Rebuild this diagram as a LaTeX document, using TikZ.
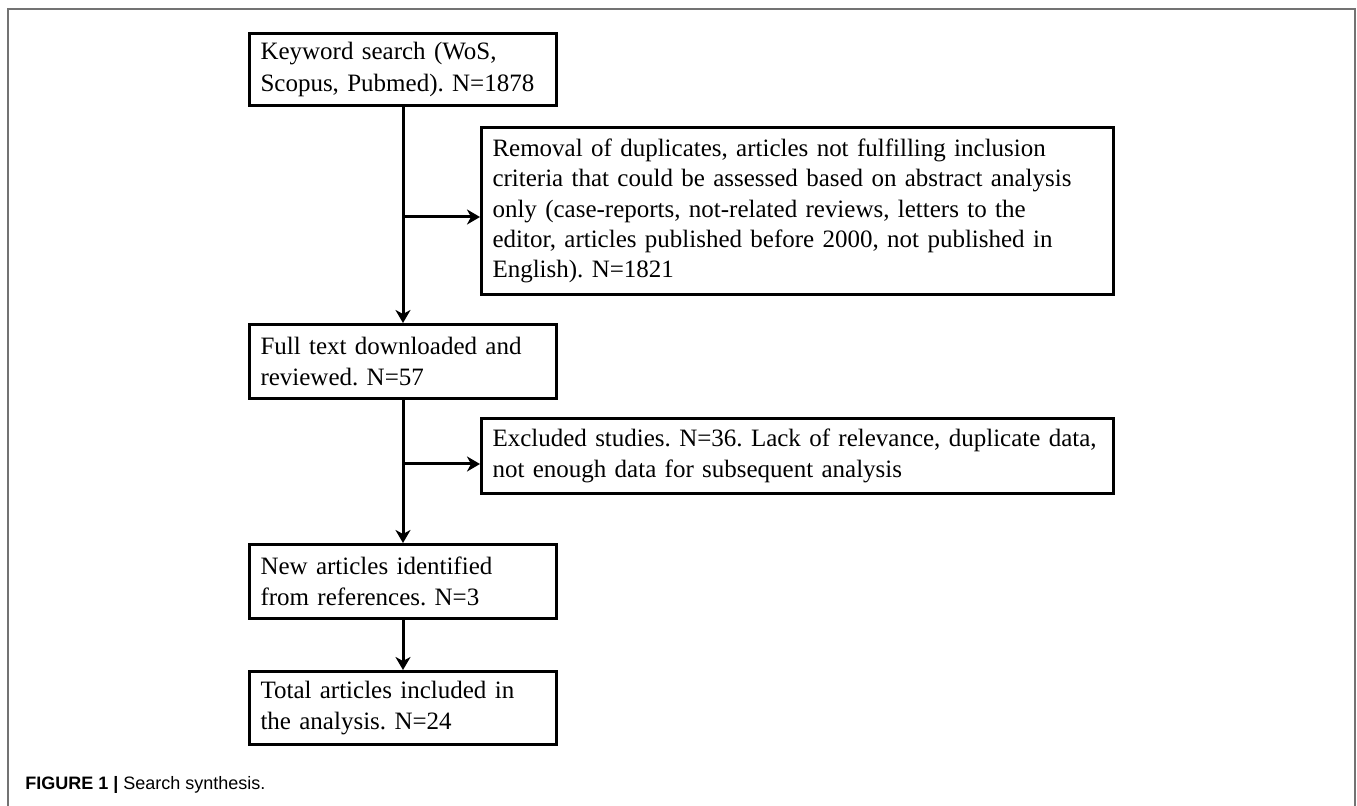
\documentclass[tikz,border=0pt]{standalone}
\usepackage{fontspec}
\setmainfont{Liberation Serif}
\newfontfamily\capfont{Liberation Sans}
\usetikzlibrary{arrows.meta}
\frenchspacing

\newcommand\flowfont{\fontsize{12.5}{15.2}\selectfont}

\tikzset{
  stepbox/.style={draw, line width=1.5pt, anchor=north west, align=left,
    inner xsep=5.5pt, inner ysep=0pt, font=\flowfont},
  narrowbox/.style={stepbox, text width=142.5pt},
  widebox/.style={stepbox, text width=305pt},
  flow/.style={line width=1.5pt, -{Stealth[length=6.5pt,width=7.5pt,inset=2pt]}}
}

\begin{document}
\begin{tikzpicture}[x=0.5pt,y=-0.5pt]
\useasboundingbox (0,0) rectangle (1357,806);
% figure frame
\draw [black!55, line width=1pt] (8,806) -- (8,9) -- (1355,9) -- (1355,806);

\node [narrowbox, minimum height=36pt, font=\fontsize{12.5}{16}\selectfont] (kw) at (248,32)
  {Keyword search (WoS,\\Scopus, Pubmed). N=1878};
\node [widebox, minimum height=83.5pt] (rm) at (480,126)
  {Removal of duplicates, articles not fulfilling inclusion\\
   criteria that could be assessed based on abstract analysis\\
   only (case-reports, not-related reviews, letters to the\\
   editor, articles published before 2000, not published in\\
   English). N=1821};
\node [narrowbox, minimum height=37pt] (ft) at (248,323)
  {Full text downloaded and\\reviewed. N=57};
\node [widebox, minimum height=37.5pt] (ex) at (480,417)
  {Excluded studies. N=36. Lack of relevance, duplicate data,\\
   not enough data for subsequent analysis};
\node [narrowbox, minimum height=37pt] (na) at (248,543)
  {New articles identified\\from references. N=3};
\node [narrowbox, minimum height=36.5pt] (tot) at (248,670)
  {Total articles included in\\the analysis. N=24};

\node [anchor=base west, inner sep=0pt, font=\capfont\fontsize{9}{11}\selectfont] (cap) at (25,790)
  {\textbf{FIGURE 1 |} Search synthesis.};

% main line
\draw [flow] (kw.south) -- (ft.north);
\draw [flow] (ft.south) -- (na.north);
\draw [flow] (na.south) -- (tot.north);

% side branches
\coordinate (t1) at ([yshift=-3pt]rm.west);
\coordinate (j1) at (kw.south |- t1);
\draw [flow] (j1) -- (t1);
\coordinate (t2) at ([yshift=-4pt]ex.west);
\coordinate (j2) at (ft.south |- t2);
\draw [flow] (j2) -- (t2);
\end{tikzpicture}
\end{document}
